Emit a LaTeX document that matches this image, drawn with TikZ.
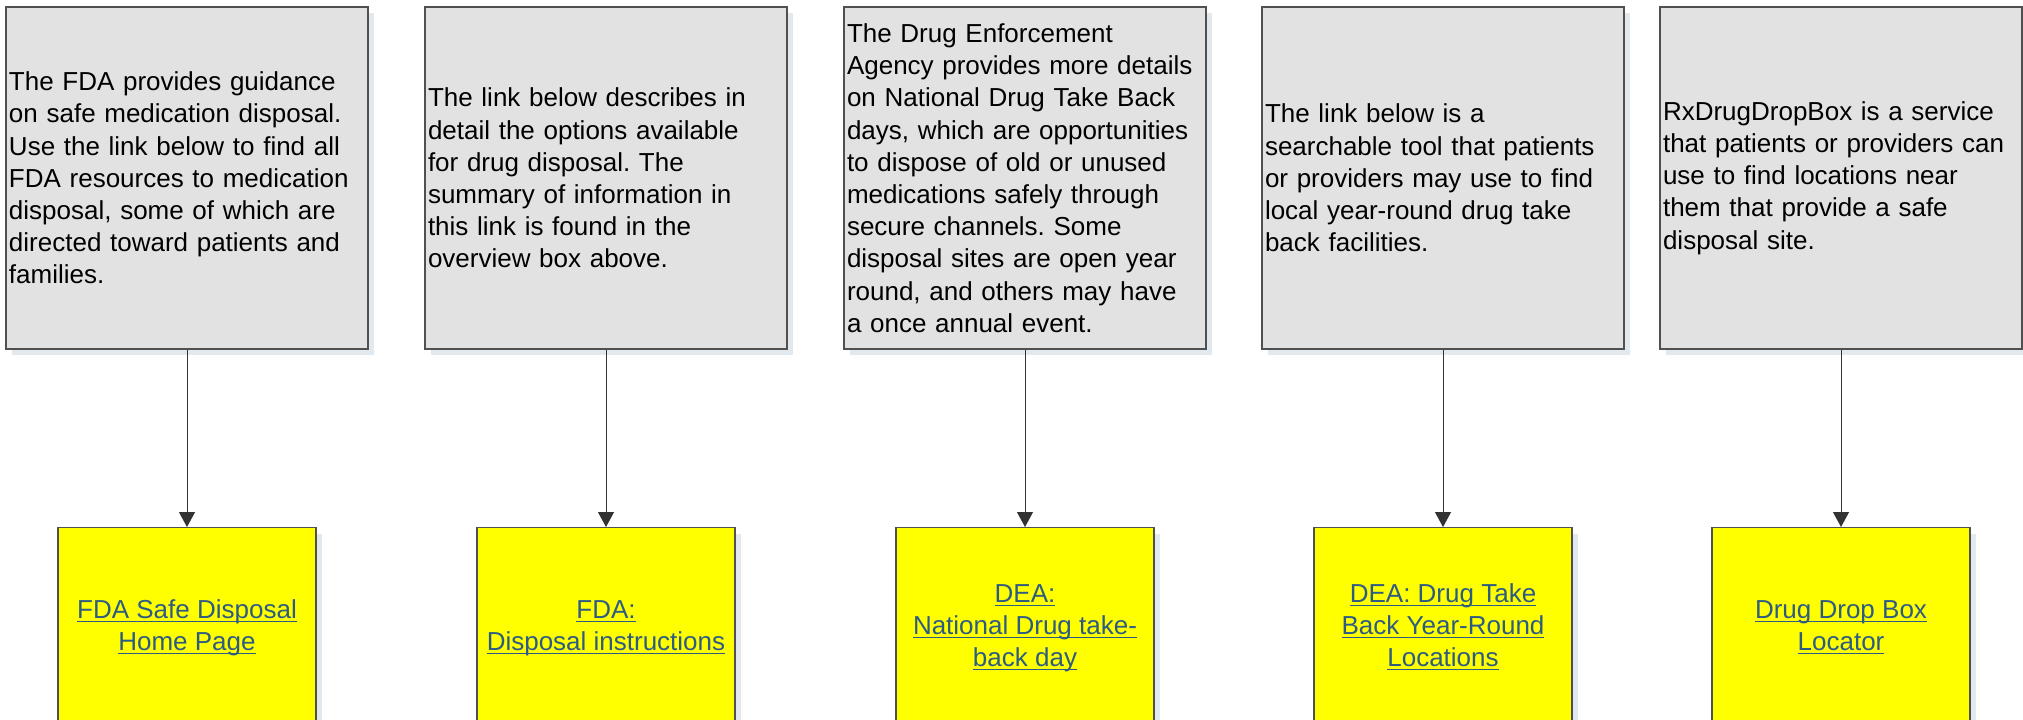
\documentclass[tikz,border=0pt]{standalone}
\usepackage{fontspec}
\setmainfont{Liberation Sans}
\usetikzlibrary{arrows.meta,shadows}

\definecolor{boxgray}{RGB}{226,226,226}
\definecolor{linkyellow}{RGB}{255,255,0}
\definecolor{linkblue}{RGB}{45,92,130}
\definecolor{shadowc}{RGB}{226,233,238}
\definecolor{edgec}{RGB}{80,80,80}

\newcommand{\lnk}[1]{\underline{\smash{#1}}}
\frenchspacing
\hyphenpenalty=10000

\begin{document}
\begin{tikzpicture}[x=0.5pt,y=-0.5pt,
    info/.style={rectangle, draw=edgec, line width=0.7pt, fill=boxgray,
      general shadow={fill=shadowc, shadow xshift=3pt, shadow yshift=-3pt},
      text width=178pt, inner xsep=1.5pt, minimum height=171pt, align=left,
      font=\fontsize{13}{16.1}\selectfont},
    link/.style={rectangle, draw=edgec, line width=0.7pt, fill=linkyellow,
      general shadow={fill=shadowc, shadow xshift=3pt, shadow yshift=-3pt},
      minimum width=129pt, minimum height=109pt, anchor=north, align=center,
      text=linkblue, font=\fontsize{13}{16.1}\selectfont},
    conn/.style={draw=black!80, line width=0.5pt, -{Triangle[length=7.5pt,width=8pt]}}]

    \clip (0,0) rectangle (2023,719);
    \fill[white] (0,0) rectangle (2023,719);

    % upper boxes
    \node[info] at (187,178) (fda) {The FDA provides guidance\\ on safe medication disposal.\\ Use the link below to find all\\ FDA resources to medication\\ disposal, some of which are\\ directed toward patients and\\ families.};
    \node[info] at (606,178) (howto) {The link below describes in\\ detail the options available\\ for drug disposal. The\\ summary of information in\\ this link is found in the\\ overview box above.};
    \node[info] at (1025,178) (dea) {The Drug Enforcement\\ Agency provides more details\\ on National Drug Take Back\\ days, which are opportunities\\ to dispose of old or unused\\ medications safely through\\ secure channels. Some\\ disposal sites are open year\\ round, and others may have\\ a once annual event.};
    \node[info] at (1443,178) (yearround) {The link below is a\\ searchable tool that patients\\ or providers may use to find\\ local year-round drug take\\ back facilities.};
    \node[info] at (1841,178) (dropbox) {RxDrugDropBox is a service\\ that patients or providers can\\ use to find locations near\\ them that provide a safe\\ disposal site.};

    % link boxes
    \node[link] at (187,527) (fdalink) {\lnk{FDA Safe Disposal}\\ \lnk{Home Page}};
    \node[link] at (606,527) (howtolink) {\lnk{FDA:}\\ \lnk{Disposal instructions}};
    \node[link] at (1025,527) (dealink) {\lnk{DEA:}\\ \lnk{National Drug take-}\\ \lnk{back day}};
    \node[link] at (1443,527) (yearroundlink) {\lnk{DEA: Drug Take}\\ \lnk{Back Year-Round}\\ \lnk{Locations}};
    \node[link] at (1841,527) (dropboxlink) {\lnk{Drug Drop Box}\\ \lnk{Locator}};

    \draw[conn] (fda.south) -- (fdalink.north);
    \draw[conn] (howto.south) -- (howtolink.north);
    \draw[conn] (dea.south) -- (dealink.north);
    \draw[conn] (yearround.south) -- (yearroundlink.north);
    \draw[conn] (dropbox.south) -- (dropboxlink.north);
  \end{tikzpicture}
\end{document}
